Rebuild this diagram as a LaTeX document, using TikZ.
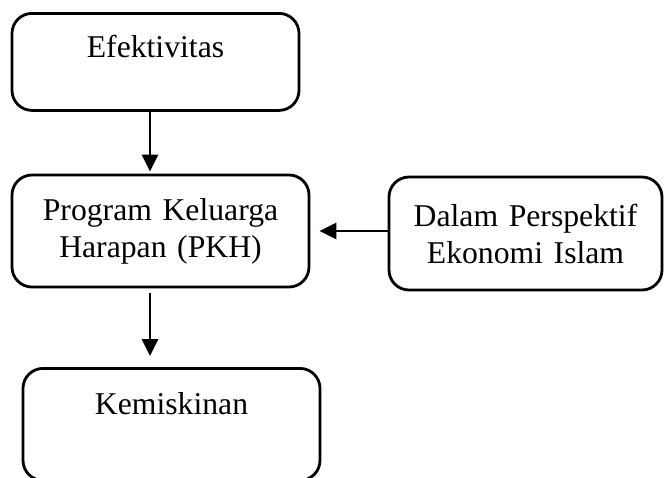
\documentclass[tikz,border=0pt]{standalone}
\usepackage{fontspec}
\setmainfont{Liberation Serif}
\usetikzlibrary{arrows.meta}
\begin{document}
\begin{tikzpicture}[x=1pt,y=-1pt,
  box/.style={draw, line width=2.8pt, rounded corners=20pt, inner sep=0pt, align=center,
    font=\fontsize{31.7}{37}\selectfont},
  conn/.style={line width=2.8pt, -{Triangle[length=17pt,width=16pt]}}]
\clip (0,0) rectangle (664,477);
\node[box, text width=287pt, text height=44pt, text depth=53pt, anchor=north] (e) at (155.5,12) {Efektivitas};
\node[box, text width=297pt, minimum height=112pt] (p) at (160.5,231) {Program Keluarga\\Harapan (PKH)};
\node[box, text width=273pt, minimum height=113pt] (d) at (525.5,233.5) {Dalam Perspektif\\Ekonomi Islam};
\node[box, text width=297pt, text height=46pt, text depth=66pt, anchor=north] (k) at (171.5,367) {Kemiskinan};
\coordinate (ax) at (150,0);
\draw[conn, shorten >=2pt] (e.south -| ax) -- (p.north -| ax);
\draw[conn, shorten <=5pt, shorten >=11pt] (p.south -| ax) -- (k.north -| ax);
\draw[conn, shorten >=9pt] (d.west |- p.east) -- (p.east);
\end{tikzpicture}
\end{document}
